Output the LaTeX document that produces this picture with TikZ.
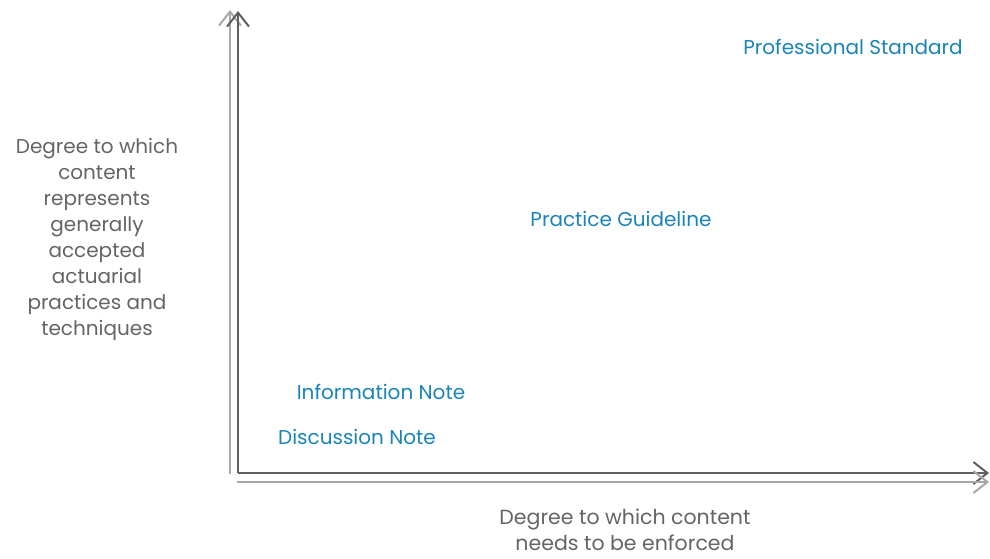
\documentclass[tikz,border=0pt]{standalone}
\usepackage{fontspec}
\setmainfont{Poppins}
\usetikzlibrary{arrows.meta}
\definecolor{lblue}{RGB}{24,132,184}
\definecolor{tgray}{RGB}{100,100,100}
\definecolor{dline}{RGB}{95,95,95}
\definecolor{lline}{RGB}{168,168,168}
\tikzset{
  cat/.style={text=lblue, font=\fontsize{20}{24}\selectfont, inner sep=0pt, anchor=center},
  axlabel/.style={text=tgray, font=\fontsize{20}{26}\selectfont, align=center, inner sep=0pt},
  darkax/.style={draw=dline, line width=2pt, -{Straight Barb[length=14pt,width=22pt,line width=2pt]}},
  lightax/.style={draw=lline, line width=2pt, -{Straight Barb[length=14pt,width=22pt,line width=2pt]}}
}
\begin{document}
\begin{tikzpicture}[x=1pt,y=-1pt]
\useasboundingbox (0,0) rectangle (990,558);
% axes
\coordinate (lo) at (230,474);
\coordinate (lt) at (230,10);
\coordinate (do) at (238,473);
\coordinate (dt) at (238,11);
\coordinate (dr) at (989,473);
\coordinate (ls) at (237,482);
\coordinate (lr) at (989,482);
\draw[lightax] (lo) -- (lt);
\draw[darkax] (dt |- do) -- (dt);
\draw[darkax] (do) -- (dr);
\draw[lightax] (ls) -- (lr);
% labels
\node[cat] (ps) at (853,47) {Professional Standard};
\node[cat] (pg) at (621,219) {Practice Guideline};
\node[cat] (in) at (381,392) {Information Note};
\node[cat] (dn) at (357,437) {Discussion Note};
\node[axlabel] (yl) at (97,239) {Degree to which\\content\\represents\\generally\\accepted\\actuarial\\practices and\\techniques};
\node[axlabel, font=\fontsize{20.5}{26}\selectfont] (xl) at (625,530) {Degree to which content\\needs to be enforced};
\end{tikzpicture}
\end{document}
